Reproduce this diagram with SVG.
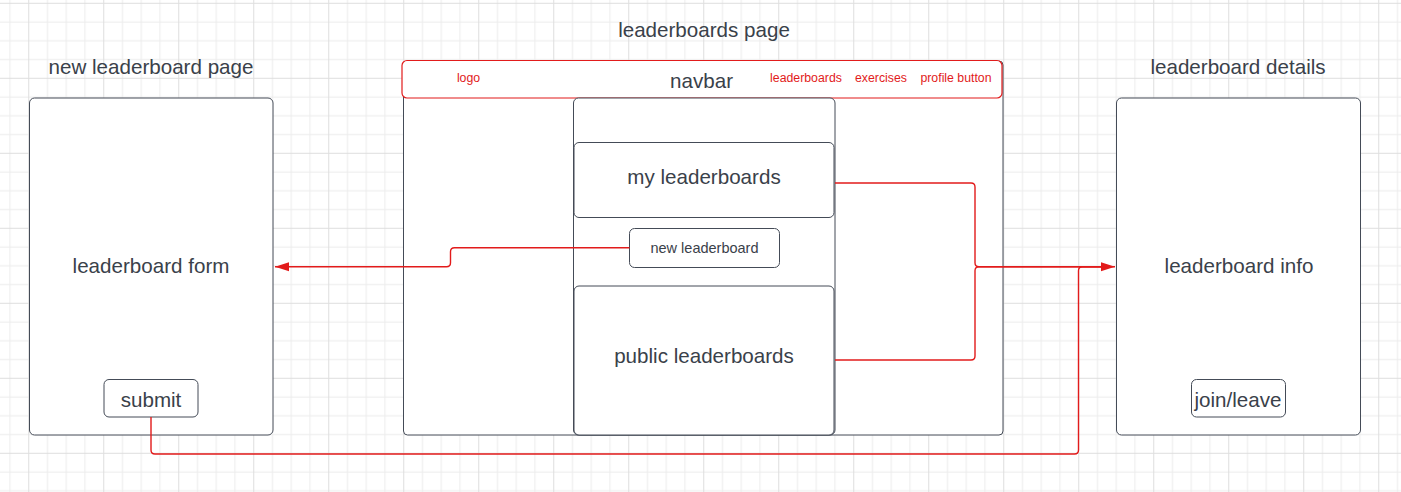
<svg xmlns="http://www.w3.org/2000/svg" width="1401" height="492" viewBox="0 0 1401 492">
<defs>
<pattern id="grid" patternUnits="userSpaceOnUse" x="28.25" y="2.8" width="75" height="75">
<rect x="0" y="0" width="75" height="75" fill="#ffffff"/>
<rect x="18.75" y="0" width="1" height="75" fill="#ececec"/>
<rect x="37.5" y="0" width="1" height="75" fill="#ececec"/>
<rect x="56.25" y="0" width="1" height="75" fill="#ececec"/>
<rect x="0" y="18.75" width="75" height="1" fill="#ececec"/>
<rect x="0" y="37.5" width="75" height="1" fill="#ececec"/>
<rect x="0" y="56.25" width="75" height="1" fill="#ececec"/>
<rect x="0" y="0" width="1" height="75" fill="#dedede"/>
<rect x="0" y="0" width="75" height="1" fill="#dedede"/>
</pattern>
<marker id="arrow" viewBox="0 0 14 10" refX="14" refY="5" markerWidth="14" markerHeight="10" markerUnits="userSpaceOnUse" orient="auto">
<path d="M0,0.5 L14,5 L0,9.5 z" fill="#e21b1b"/>
</marker>
<style>
.box{fill:#ffffff;stroke:#444b57;stroke-width:1}
.nav{fill:#ffffff;stroke:#e21b1b;stroke-width:1.2}
.t{font-family:"Liberation Sans",Arial,sans-serif;fill:#3a414a;text-anchor:middle}
.big{font-size:20.6px}
.mid{font-size:14.5px}
.red{font-family:"Liberation Sans",Arial,sans-serif;fill:#e21b1b;font-size:12.3px;text-anchor:middle}
.conn{fill:none;stroke:#e21b1b;stroke-width:1.4}
</style>
</defs>
<rect x="0" y="0" width="1401" height="492" fill="url(#grid)"/>

<g id="titles">
<text class="t big" x="151" y="74">new leaderboard page</text>
<text class="t big" x="704" y="37.3">leaderboards page</text>
<text class="t big" x="1238" y="74">leaderboard details</text>
</g>

<g id="new-leaderboard-page">
<rect class="box" x="29.5" y="98" width="243.5" height="337" rx="5"/>
<text class="t big" x="151" y="273">leaderboard form</text>
</g>
<g id="submit">
<rect class="box" x="104" y="379.5" width="94" height="37.5" rx="5"/>
<text class="t big" x="151" y="407">submit</text>
</g>

<g id="leaderboards-page">
<rect class="box" x="403.5" y="61" width="599.5" height="374" rx="4"/>
</g>
<g id="navbar">
<rect class="nav" x="402" y="60.5" width="600" height="37.5" rx="5"/>
<text class="t big" x="701.5" y="88">navbar</text>
<text class="red" x="468.5" y="82">logo</text>
<text class="red" x="806" y="82">leaderboards</text>
<text class="red" x="881" y="82">exercises</text>
<text class="red" x="956" y="82">profile button</text>
</g>
<g id="column">
<rect class="box" x="573.5" y="98" width="261.5" height="337" rx="5"/>
</g>
<g id="my-leaderboards">
<rect class="box" x="574" y="142.5" width="260" height="75" rx="5"/>
<text class="t big" x="704" y="184.3">my leaderboards</text>
</g>
<g id="new-leaderboard">
<rect class="box" x="629.5" y="228.5" width="150" height="39" rx="5"/>
<text class="t mid" x="704.5" y="253.3">new leaderboard</text>
</g>
<g id="public-leaderboards">
<rect class="box" x="574" y="286" width="260" height="149" rx="5"/>
<text class="t big" x="704" y="363">public leaderboards</text>
</g>

<g id="leaderboard-details">
<rect class="box" x="1116.5" y="98" width="244" height="337" rx="5"/>
<text class="t big" x="1239" y="273">leaderboard info</text>
</g>
<g id="join-leave">
<rect class="box" x="1191.5" y="379.5" width="94" height="37.5" rx="5"/>
<text class="t big" x="1238" y="407.3">join/leave</text>
</g>

<g id="connectors">
<path class="conn" d="M629.5,247.7 H454.5 Q450.5,247.7 450.5,251.7 V262.7 Q450.5,266.7 446.5,266.7 H275" marker-end="url(#arrow)"/>
<path class="conn" d="M835,183 H971 Q975,183 975,187 V262.7 Q975,266.7 979,266.7 H1115" marker-end="url(#arrow)"/>
<path class="conn" d="M835,360 H971 Q975,360 975,356 V270.7 Q975,266.7 979,266.7 H1101"/>
<path class="conn" d="M151,417 V450 Q151,454 155,454 H1074.5 Q1078.5,454 1078.5,450 V270.7 Q1078.5,266.7 1082.5,266.7 H1101"/>
</g>
</svg>
